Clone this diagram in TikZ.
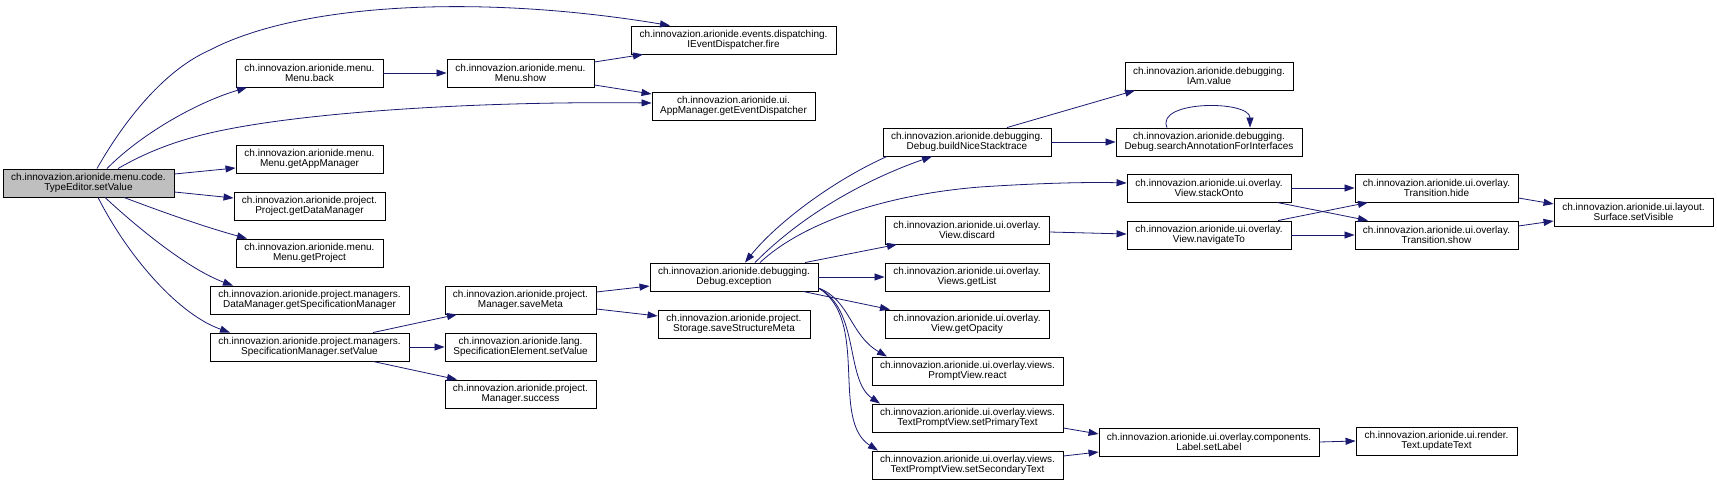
\documentclass[tikz,border=0pt]{standalone}
\usepackage{fontspec}
\setmainfont{Liberation Sans}
\usetikzlibrary{arrows.meta,calc}
\definecolor{edgec}{HTML}{191970}
\definecolor{maingray}{HTML}{BFBFBF}
\tikzset{
  box/.style={draw=black, line width=0.9pt, fill=white, rectangle, inner sep=0pt,
    minimum height=28pt, align=center, font=\fontsize{10}{10}\selectfont},
  mainbox/.style={box, fill=maingray},
  edge/.style={draw=edgec, line width=0.8pt, -{Triangle[length=10pt,width=7pt]}},
}
\begin{document}
\begin{tikzpicture}[x=1pt,y=-1pt]
\useasboundingbox (0,0) rectangle (1717,484);
% nodes
\node[mainbox, minimum width=171pt] (te) at (88.5,183) {ch.innovazion.arionide.menu.code.\\TypeEditor.setValue};
\node[box, minimum width=147pt] (back) at (309.5,73) {ch.innovazion.arionide.menu.\\Menu.back};
\node[box, minimum width=147pt] (gam) at (309.5,159) {ch.innovazion.arionide.menu.\\Menu.getAppManager};
\node[box, minimum width=151pt] (gdm) at (309.5,206) {ch.innovazion.arionide.project.\\Project.getDataManager};
\node[box, minimum width=147pt] (gp) at (309.5,253) {ch.innovazion.arionide.menu.\\Menu.getProject};
\node[box, minimum width=199pt] (gsm) at (309.5,300) {ch.innovazion.arionide.project.managers.\\DataManager.getSpecificationManager};
\node[box, minimum width=199pt] (ssv) at (309.5,347) {ch.innovazion.arionide.project.managers.\\SpecificationManager.setValue};
\node[box, minimum width=205pt] (fire) at (733.5,40) {ch.innovazion.arionide.events.dispatching.\\IEventDispatcher.fire};
\node[box, minimum width=147pt] (show) at (520.5,73) {ch.innovazion.arionide.menu.\\Menu.show};
\node[box, minimum width=163pt] (ged) at (733.5,106) {ch.innovazion.arionide.ui.\\AppManager.getEventDispatcher};
\node[box, minimum width=168pt] (exc) at (734,277) {ch.innovazion.arionide.debugging.\\Debug.exception};
\node[box, minimum width=151pt] (smeta) at (520.5,300) {ch.innovazion.arionide.project.\\Manager.saveMeta};
\node[box, minimum width=152pt] (ssm) at (734,324) {ch.innovazion.arionide.project.\\Storage.saveStructureMeta};
\node[box, minimum width=151pt] (sel) at (520.5,347) {ch.innovazion.arionide.lang.\\SpecificationElement.setValue};
\node[box, minimum width=151pt] (succ) at (520.5,394) {ch.innovazion.arionide.project.\\Manager.success};
\node[box, minimum width=168pt] (bns) at (967,142) {ch.innovazion.arionide.debugging.\\Debug.buildNiceStacktrace};
\node[box, minimum width=186pt] (sai) at (1209,142) {ch.innovazion.arionide.debugging.\\Debug.searchAnnotationForInterfaces};
\node[box, minimum width=168pt] (iam) at (1209,76) {ch.innovazion.arionide.debugging.\\IAm.value};
\node[box, minimum width=164pt] (sto) at (1209,188) {ch.innovazion.arionide.ui.overlay.\\View.stackOnto};
\node[box, minimum width=164pt] (dis) at (967,230) {ch.innovazion.arionide.ui.overlay.\\View.discard};
\node[box, minimum width=164pt] (nav) at (1209,235) {ch.innovazion.arionide.ui.overlay.\\View.navigateTo};
\node[box, minimum width=164pt] (gl) at (967,277) {ch.innovazion.arionide.ui.overlay.\\Views.getList};
\node[box, minimum width=164pt] (gop) at (967,324) {ch.innovazion.arionide.ui.overlay.\\View.getOpacity};
\node[box, minimum width=191pt] (react) at (967.5,371) {ch.innovazion.arionide.ui.overlay.views.\\PromptView.react};
\node[box, minimum width=191pt] (spt) at (967.5,418) {ch.innovazion.arionide.ui.overlay.views.\\TextPromptView.setPrimaryText};
\node[box, minimum width=191pt] (sst) at (967.5,465) {ch.innovazion.arionide.ui.overlay.views.\\TextPromptView.setSecondaryText};
\node[box, minimum width=220pt] (lab) at (1209,442) {ch.innovazion.arionide.ui.overlay.components.\\Label.setLabel};
\node[box, minimum width=161pt] (upd) at (1436.5,441) {ch.innovazion.arionide.ui.render.\\Text.updateText};
\node[box, minimum width=163pt] (hide) at (1436.5,188) {ch.innovazion.arionide.ui.overlay.\\Transition.hide};
\node[box, minimum width=163pt] (tsh) at (1436.5,235) {ch.innovazion.arionide.ui.overlay.\\Transition.show};
\node[box, minimum width=159pt] (vis) at (1633.5,212) {ch.innovazion.arionide.ui.layout.\\Surface.setVisible};
% edges
\draw[edge] ($(te.north)+(8.5,0)$) .. controls (120,128) and (160,72) .. (210,50) .. controls (300,3) and (480,-6) .. ($(fire.north)+(-63.5,0)$);
\draw[edge] ($(te.north)+(18.5,0)$) .. controls (140,135) and (195,103) .. ($(back.south)+(-62.5,0)$);
\draw[edge] ($(te.north)+(29.5,0)$) .. controls (150,150) and (180,140) .. (210,133) .. controls (300,112) and (480,101) .. ($(ged.west)+(0,-3)$);
\draw[edge] ($(te.east)+(0,-9)$) -- ($(gam.west)+(0,9)$);
\draw[edge] ($(te.east)+(0,9)$) -- ($(gdm.west)+(0,-8)$);
\draw[edge] ($(te.south)+(35.5,0)$) .. controls (165,213) and (205,227) .. ($(gp.north)+(-62.5,0)$);
\draw[edge] ($(te.south)+(16.5,0)$) .. controls (140,230) and (190,270) .. ($(gsm.north)+(-76.5,0)$);
\draw[edge] ($(te.south)+(9.5,0)$) .. controls (130,260) and (180,315) .. ($(ssv.north)+(-79.5,0)$);
\draw[edge] (back.east) -- (show.west);
\draw[edge] ($(show.east)+(0,-11)$) -- ($(fire.south)+(-90.5,0)$);
\draw[edge] ($(show.east)+(0,12)$) -- ($(ged.west)+(0,-12)$);
\draw[edge] ($(ssv.north)+(63.5,0)$) -- ($(smeta.south)+(-63.5,0)$);
\draw[edge] (ssv.east) -- (sel.west);
\draw[edge] ($(ssv.south)+(63.5,0)$) -- ($(succ.north)+(-63.5,0)$);
\draw[edge] ($(smeta.east)+(0,-8)$) -- ($(exc.west)+(0,9)$);
\draw[edge] ($(smeta.east)+(0,9)$) -- ($(ssm.west)+(0,-8)$);
\draw[edge] ($(exc.north)+(21,0)$) .. controls (805,212) and (870,178) .. ($(bns.south)+(-35,0)$);
\draw[edge] ($(bns.south)+(-80,0)$) .. controls (830,182) and (775,225) .. ($(exc.north)+(11,0)$);
\draw[edge] ($(exc.north)+(26,0)$) .. controls (800,225) and (880,195) .. (980,187) .. controls (1040,183) and (1090,182) .. ($(sto.west)+(0,-5)$);
\draw[edge] ($(bns.north)+(40,0)$) -- ($(iam.south)+(-74,0)$);
\draw[edge] (bns.east) -- (sai.west);
\draw[edge] ($(sai.north)+(-42,0)$) .. controls (1155,100) and (1250,100) .. ($(sai.north)+(41,0)$);
\draw[edge] ($(exc.north)+(71,0)$) -- ($(dis.south)+(-70,0)$);
\draw[edge] (exc.east) -- (gl.west);
\draw[edge] ($(exc.south)+(69,0)$) -- ($(gop.north)+(-77,0)$);
\draw[edge] ($(exc.east)+(0,11)$) .. controls (850,300) and (850,335) .. ($(react.north)+(-80.5,0)$);
\draw[edge] ($(exc.east)+(0,11)$) .. controls (860,310) and (845,380) .. ($(spt.north)+(-87.5,0)$);
\draw[edge] ($(exc.east)+(0,11)$) .. controls (870,320) and (830,420) .. ($(sst.north)+(-89.5,0)$);
\draw[edge] ($(dis.east)+(0,2)$) -- ($(nav.west)+(0,-1)$);
\draw[edge] (sto.east) -- (hide.west);
\draw[edge] ($(sto.south)+(68,0)$) -- ($(tsh.north)+(-68.5,0)$);
\draw[edge] ($(nav.north)+(69,0)$) -- ($(hide.south)+(-68.5,0)$);
\draw[edge] (nav.east) -- (tsh.west);
\draw[edge] ($(hide.east)+(0,10)$) -- ($(vis.west)+(0,-8)$);
\draw[edge] ($(tsh.east)+(0,-9)$) -- ($(vis.west)+(0,9)$);
\draw[edge] ($(spt.east)+(0,10)$) -- ($(lab.west)+(0,-8)$);
\draw[edge] ($(sst.east)+(0,-9)$) -- ($(lab.west)+(0,10)$);
\draw[edge] (lab.east) -- (upd.west);
\end{tikzpicture}
\end{document}
